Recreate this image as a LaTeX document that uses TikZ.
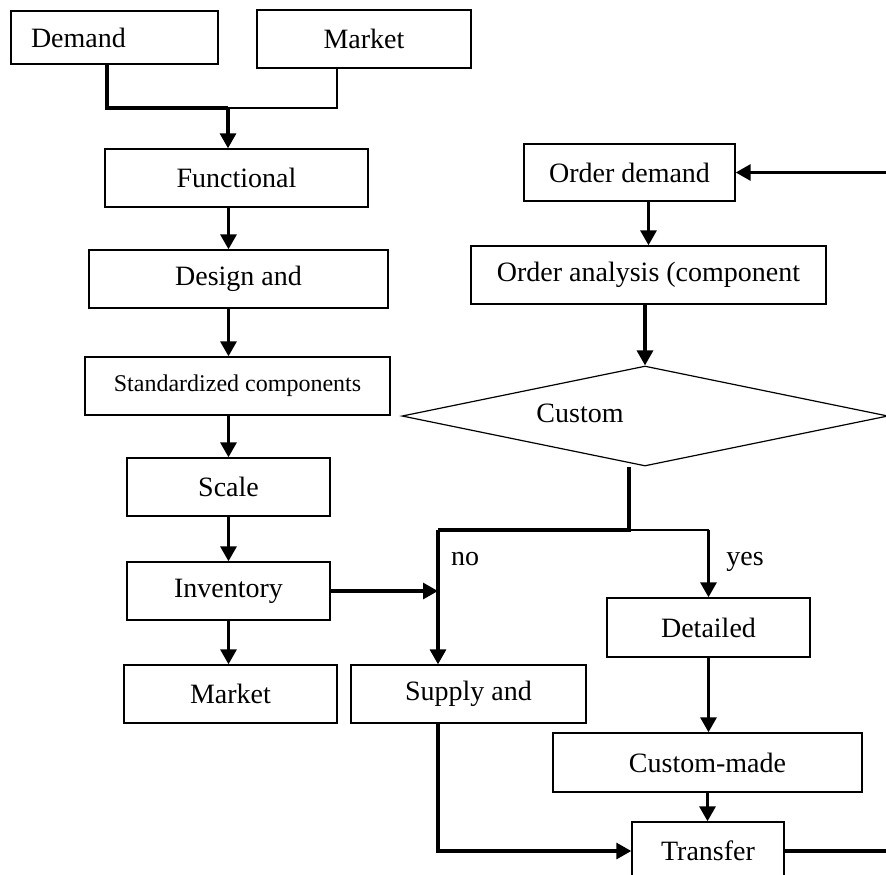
\documentclass[tikz,border=0pt]{standalone}
\usepackage{fontspec}
\setmainfont{Liberation Serif}
\usetikzlibrary{arrows.meta,shapes.geometric}

\begin{document}
\begin{tikzpicture}[x=0.5pt,y=-0.5pt,font=\fontsize{14}{16}\selectfont,
  box/.style={draw,line width=0.7pt,inner sep=0pt,minimum height=29pt},
  thk/.style={line width=1.6pt},
  thinln/.style={line width=0.7pt},
  arr/.style={->,line width=1.6pt},
  >={Triangle[length=7.5pt,width=8pt]}]
\useasboundingbox (0,0) rectangle (886,874);
% left column
\node[box,minimum width=103.5pt,minimum height=26.5pt,text width=83.5pt,align=left] (dem) at (114.5,37.5) {Demand};
\node[box,minimum width=107pt] (mkt1) at (364,39) {Market};
\node[box,minimum width=131.5pt] (fun) at (236.5,178) {Functional};
\node[box,minimum width=149.5pt] (des) at (238.5,279) {Design and};
\node[box,minimum width=152.5pt,font=\fontsize{12}{14}\selectfont] (std) at (237.5,386) {Standardized components};
\node[box,minimum width=101.5pt] (scl) at (228.5,487) {Scale};
\node[box,minimum width=101.5pt] (inv) at (228.5,591) {Inventory};
\node[box,minimum width=106.5pt] (mkt2) at (230.5,694) {Market};
\node[box,minimum width=117.5pt] (sup) at (468.5,694) {Supply and};
% right column
\node[box,minimum width=105.5pt,minimum height=28.5pt] (ord) at (629.5,172.5) {Order demand};
\node[box,minimum width=177.5pt] (ana) at (648.5,275) {Order analysis (component};
\node[draw,diamond,line width=0.6pt,inner sep=0pt,minimum width=243pt,minimum height=50pt,
  label={[xshift=-32.5pt,yshift=1.5pt]center:Custom}] (cus) at (645,416) {};
\node[box,minimum width=101.5pt,minimum height=29.5pt] (det) at (708.5,627.5) {Detailed};
\node[box,minimum width=154.5pt,minimum height=29.5pt] (cmd) at (707.5,762.5) {Custom-made};
\node[box,minimum width=76pt] (trf) at (708,851) {Transfer};
\node[anchor=base] (no) at (465,565) {no};
\node[anchor=base] (yes) at (745,565) {yes};
% joints
\coordinate (dl) at (107,108);
\coordinate (ml) at (337,108);
\coordinate (top) at (228,108);
\coordinate (jn) at (629,530);
\coordinate (nx) at (438,530);
\coordinate (edge) at (886,0);
% connectors
\draw[thk] (dem.south -| dl) -- (dl) -- (top);
\draw[thinln] (mkt1.south -| ml) -- (ml) -- (top);
\draw[arr] (top) -- (fun.north -| top);
\draw[arr] (fun.south -| scl) -- (des.north -| scl);
\draw[arr] (des.south -| scl) -- (std.north -| scl);
\draw[arr] (std.south -| scl) -- (scl.north);
\draw[arr] (scl.south) -- (inv.north);
\draw[arr] (inv.south) -- (mkt2.north -| inv);
\draw[arr] (inv.east) -- (inv.east -| nx);
\draw[arr] (ord.east -| edge) -- (ord.east);
\draw[arr] (ord.south -| ana) -- (ana.north);
\draw[arr] (ana.south -| cus) -- (cus.north);
\draw[thk] (cus.south -| jn) -- (jn) -- (nx);
\draw[arr] (nx) -- (sup.north -| nx);
\draw[thinln] (jn) -- (jn -| det);
\draw[arr] (jn -| det) -- (det.north);
\draw[arr] (det.south) -- (cmd.north -| det);
\draw[arr] (cmd.south) -- (trf.north -| cmd);
\draw[arr] (sup.south -| nx) |- (trf.west);
\draw[thk] (trf.east) -- (trf.east -| edge);
\end{tikzpicture}
\end{document}
